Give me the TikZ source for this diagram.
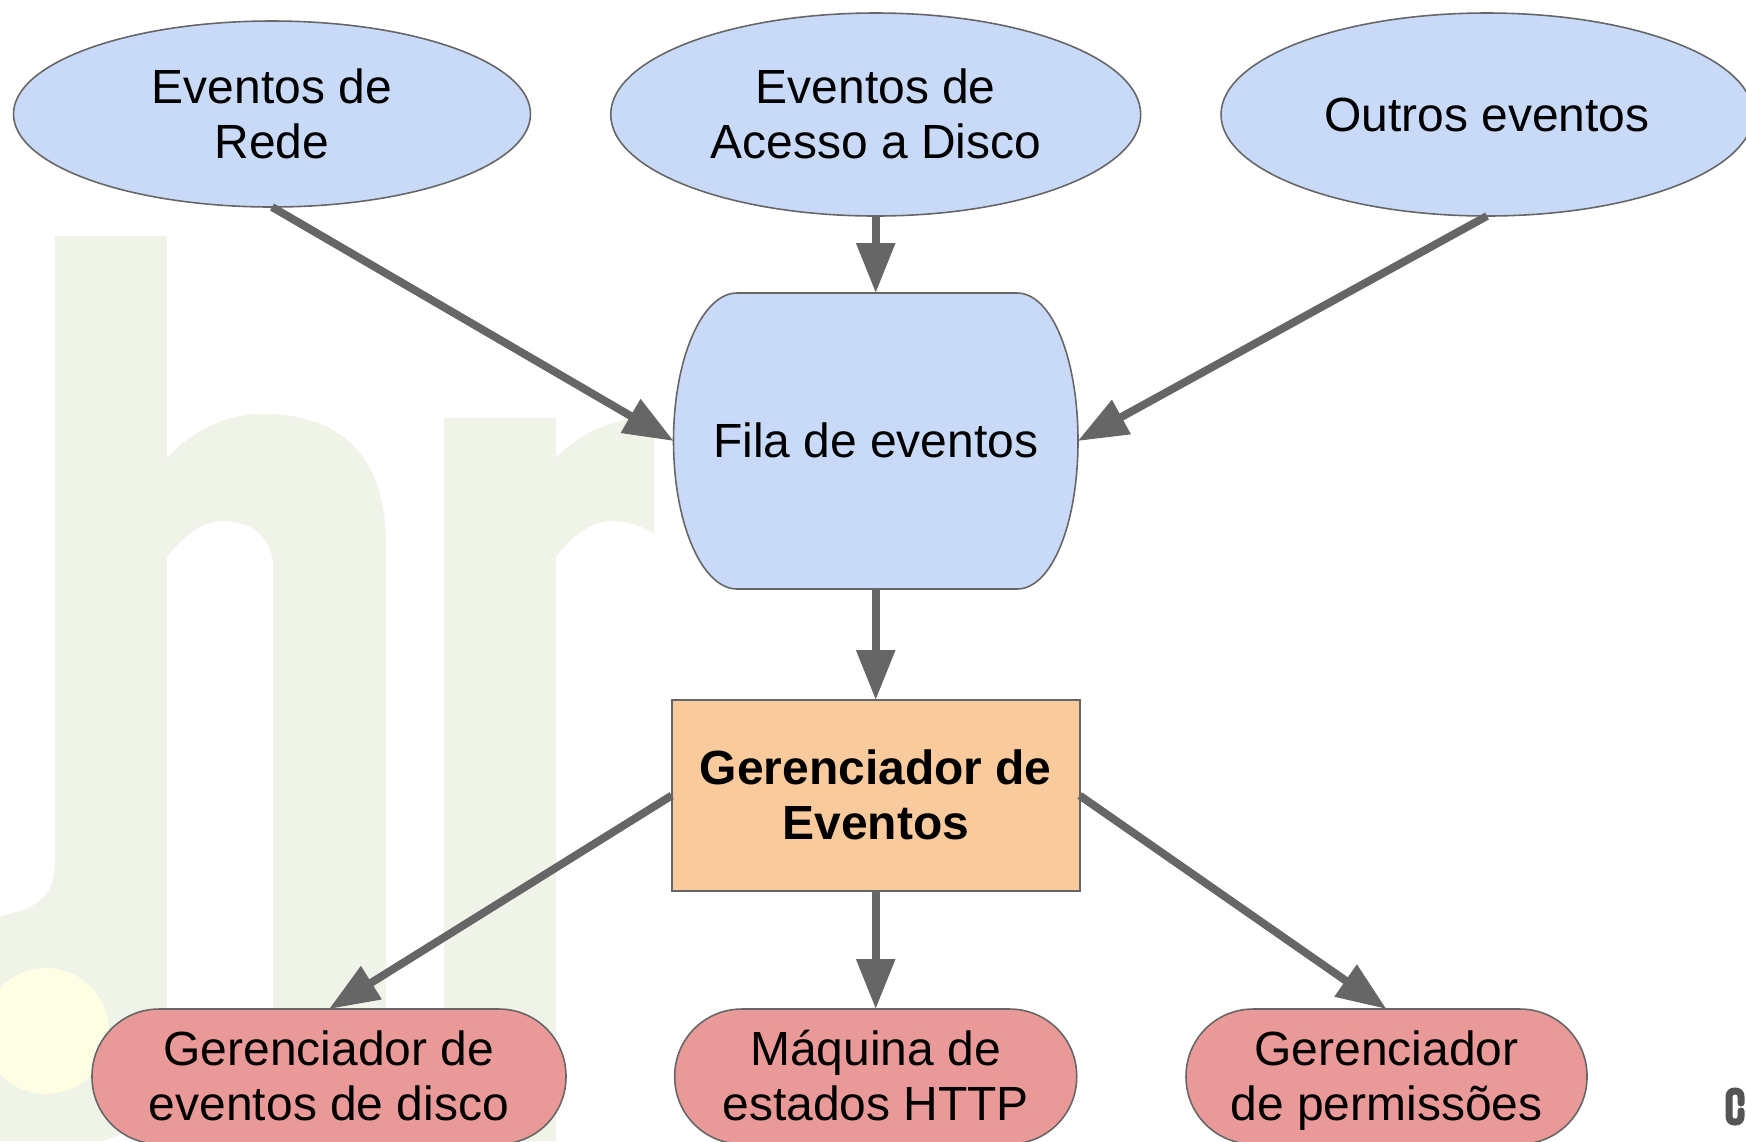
\documentclass[tikz,border=0pt]{standalone}
\usepackage{fontspec}
\setmainfont{Liberation Sans}
\usepackage{tikz}
\usetikzlibrary{shapes.geometric,arrows.meta}
\definecolor{eventColor}{HTML}{C9DAF8}
\definecolor{managerColor}{HTML}{F9CB9C}
\definecolor{handlerColor}{HTML}{EA9999}
\definecolor{edgeColor}{HTML}{666666}
\definecolor{markColor}{HTML}{EFF3E8}
\definecolor{sunColor}{HTML}{FEFEE4}
\newcommand{\firstline}{\rule{0pt}{14.2pt}}
\tikzset{
    label/.style={font=\fontsize{13.65}{15.55}\selectfont, align=center, text=black, inner sep=0, outer sep=0,
        execute at end node=\strut},
    shapeline/.style={draw=edgeColor, line width=0.45pt},
    eventbox/.style={label, shapeline, ellipse, fill=eventColor},
    queuebox/.style={label, minimum width=40.4mm, minimum height=29.6mm},
    managerbox/.style={label, shapeline, rectangle, fill=managerColor, minimum width=40.8mm, minimum height=19.1mm},
    handlerbox/.style={label, shapeline, rectangle, fill=handlerColor, rounded corners=6.7mm, minimum height=13.5mm},
    link/.style={draw=edgeColor, line width=2.25pt, -{Triangle[length=14.2pt, width=10.6pt]}}
}
\begin{document}
\begin{tikzpicture}[x=0.1mm, y=-0.1mm]
        \useasboundingbox (0,0) rectangle (1746,1141);
        \clip (0,0) rectangle (1746,1141);
        %--- Background mark ---
        \fill [markColor] (55,236) -- (167,236) -- (167,458)
            .. controls (195,428) and (228,414) .. (263,414)
            .. controls (345,414) and (386,460) .. (386,545) -- (386,1141)
            -- (273,1141) -- (273,566)
            .. controls (273,538) and (252,521) .. (223,521)
            .. controls (200,521) and (182,538) .. (167,557)
            -- (167,1095) .. controls (150,1120) and (130,1132) .. (103,1141)
            -- (0,1141) -- (0,916)
            .. controls (40,908) and (55,895) .. (55,860) -- cycle;
        \fill [markColor] (444,418) -- (556,418) -- (556,458)
            .. controls (580,432) and (615,418) .. (654,416) -- (654,533)
            .. controls (640,525) and (625,521) .. (612,521)
            .. controls (590,521) and (570,538) .. (556,557)
            -- (556,1141) -- (444,1141) -- cycle;
        \fill [sunColor] (46,1031) ellipse [x radius=63, y radius=63];
        \draw [line width=2pt, color=black!67, line cap=round]
            (1741,1103) -- (1741,1097) .. controls (1741,1093) and (1739,1091) .. (1735,1091)
            .. controls (1731,1091) and (1729,1093) .. (1729,1097) -- (1729,1116)
            .. controls (1729,1120) and (1731,1122) .. (1735,1122)
            .. controls (1739,1122) and (1741,1120) .. (1741,1116) -- (1741,1111);
        %--- Events ---
        \node [eventbox, minimum width=51.7mm, minimum height=18.6mm] (rede) at (272,114) {\firstline Eventos de\\Rede};
        \node [eventbox, minimum width=53mm, minimum height=20.3mm] (disco) at (875.7,114.5) {\firstline Eventos de\\Acesso a Disco};
        \node [eventbox, minimum width=53.2mm, minimum height=20.3mm] (outros) at (1487,114.5) {\firstline Outros eventos};
        %--- Queue ---
        \draw [shapeline, fill=eventColor] (737,293) -- (1017,293)
            .. controls (1052,293) and (1078,359) .. (1078,441)
            .. controls (1078,523) and (1052,589) .. (1017,589) -- (737,589)
            .. controls (702,589) and (673.5,523) .. (673.5,441)
            .. controls (673.5,359) and (702,293) .. (737,293) -- cycle;
        \node [queuebox] (fila) at (875.7,441) {\firstline Fila de eventos};
        %--- Manager ---
        \node [managerbox] (gerenciador) at (875.7,795.5) {\firstline\textbf{Gerenciador de}\\\textbf{Eventos}};
        %--- Handlers ---
        \node [handlerbox, minimum width=47.4mm] (discoh) at (329,1076.5) {\firstline Gerenciador de\\eventos de disco};
        \node [handlerbox, minimum width=40.2mm] (http) at (875.7,1076.5) {\firstline Máquina de\\estados HTTP};
        \node [handlerbox, minimum width=40.1mm] (permissoes) at (1386.5,1076.5) {\firstline Gerenciador\\de permissões};
        %--- Links ---
        \draw [link] (rede.south) -- (fila.west);
        \draw [link] (disco.south) -- (fila.north);
        \draw [link] (outros.south) -- (fila.east);
        \draw [link] (fila.south) -- (gerenciador.north);
        \draw [link] (gerenciador.west) -- (discoh.north);
        \draw [link] (gerenciador.south) -- (http.north);
        \draw [link] (gerenciador.east) -- (permissoes.north);
    \end{tikzpicture}
\end{document}
